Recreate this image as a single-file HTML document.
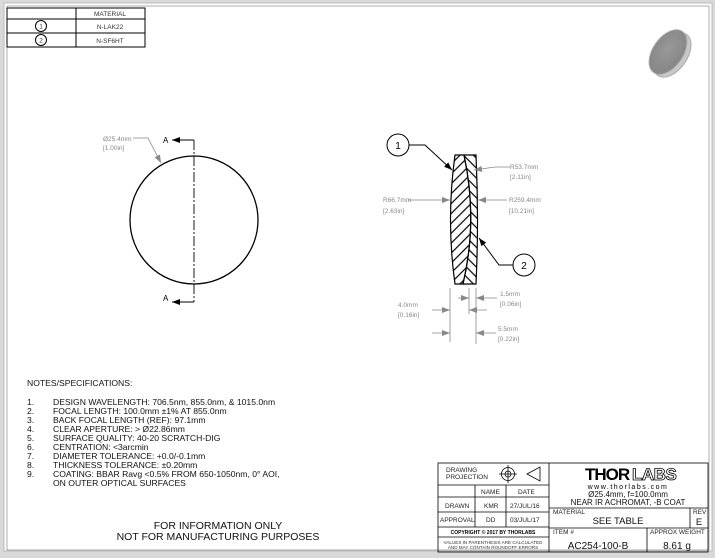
<!DOCTYPE html>
<html><head><meta charset="utf-8"><style>
body{margin:0;width:715px;height:558px;overflow:hidden;background:#d9d9d9;font-family:"Liberation Sans",sans-serif}
svg{display:block}
text{font-family:"Liberation Sans",sans-serif}
</style></head><body>
<svg width="715" height="558" viewBox="0 0 715 558">
<rect x="4" y="3" width="708" height="548" fill="#fff" stroke="#bbb"/>
<rect x="7" y="6" width="702" height="544" fill="#fff" stroke="#999" stroke-width="0.8"/>
<defs>
<marker id="ag" markerWidth="8" markerHeight="6" refX="8" refY="3" orient="auto" markerUnits="userSpaceOnUse"><path d="M0,0L8,3L0,6z" fill="#888"/></marker>
<marker id="ak" markerWidth="8" markerHeight="6" refX="8" refY="3" orient="auto" markerUnits="userSpaceOnUse"><path d="M0,0L8,3L0,6z" fill="#000"/></marker>
<pattern id="h1" width="7" height="7" patternUnits="userSpaceOnUse" patternTransform="rotate(45)"><line x1="1" y1="0" x2="1" y2="7" stroke="#000" stroke-width="1.2"/></pattern>
<pattern id="h2" width="7" height="7" patternUnits="userSpaceOnUse" patternTransform="rotate(-45)"><line x1="1" y1="0" x2="1" y2="7" stroke="#000" stroke-width="1.2"/></pattern>
<radialGradient id="lg" cx="0.45" cy="0.45"><stop offset="0" stop-color="#999"/><stop offset="1" stop-color="#888"/></radialGradient>
</defs>
<!-- material table -->
<g stroke="#000" stroke-width="1" fill="none">
<rect x="7" y="8" width="138" height="39"/>
<line x1="7" y1="19" x2="145" y2="19"/><line x1="7" y1="33" x2="145" y2="33"/>
<line x1="76" y1="8" x2="76" y2="47"/>
<circle cx="41" cy="26" r="5.5"/><circle cx="41" cy="40" r="5.5"/>
</g>
<g font-size="6.5" fill="#333" text-anchor="middle">
<text x="110" y="16">MATERIAL</text><text x="110" y="29">N-LAK22</text><text x="110" y="43">N-SF6HT</text>
<text x="41" y="28.5">1</text><text x="41" y="42.5">2</text></g>
<!-- lens image -->
<g transform="rotate(35 668 52)">
<ellipse cx="673" cy="52" rx="15" ry="25" fill="#c8c8c8" stroke="#aaa"/>
<ellipse cx="668" cy="52" rx="15" ry="25" fill="url(#lg)" stroke="#aaa"/>
</g>
<!-- front view -->
<circle cx="194" cy="220" r="64" fill="none" stroke="#000" stroke-width="1.3"/>
<line x1="194" y1="140" x2="194" y2="302" stroke="#000" stroke-width="0.9" stroke-dasharray="10,2,2,2"/>
<path d="M194,140H172" stroke="#000" stroke-width="1" fill="none" marker-end="url(#ak)"/>
<path d="M194,302H172" stroke="#000" stroke-width="1" fill="none" marker-end="url(#ak)"/>
<text x="163" y="143" font-size="8">A</text><text x="163" y="301" font-size="8">A</text>
<text x="103" y="141" font-size="6.5" fill="#888">Ø25.4mm</text>
<text x="103" y="150" font-size="6.5" fill="#888">[1.00in]</text>
<path d="M133,138H148L161,163" stroke="#888" fill="none" stroke-width="0.8" marker-end="url(#ag)"/>
<!-- section -->
<path d="M455,155 Q446,220 455,284 L463,284 Q478,220 464,155Z" fill="url(#h1)" stroke="#000" stroke-width="1.2"/>
<path d="M464,155 Q478,220 463,284 L476,284 Q479,220 476,155Z" fill="url(#h2)" stroke="#000" stroke-width="1.2"/>
<circle cx="398" cy="145" r="11" fill="#fff" stroke="#000"/><text x="398" y="149" font-size="10" text-anchor="middle">1</text>
<path d="M409,145H425L452,170" stroke="#000" fill="none" marker-end="url(#ak)"/>
<circle cx="524" cy="265" r="11" fill="#fff" stroke="#000"/><text x="524" y="269" font-size="10" text-anchor="middle">2</text>
<path d="M513,265H499L479,238" stroke="#000" fill="none" marker-end="url(#ak)"/>
<g font-size="6.5" fill="#888">
<text x="510" y="169">R53.7mm</text><text x="510" y="179">[2.11in]</text>
<text x="383" y="202">R66.7mm</text><text x="383" y="213">[2.63in]</text>
<text x="509" y="202">R259.4mm</text><text x="509" y="213">[10.21in]</text>
<text x="398" y="307">4.0mm</text><text x="398" y="317">[0.16in]</text>
<text x="500" y="296">1.5mm</text><text x="500" y="306">[0.06in]</text>
<text x="498" y="331">5.5mm</text><text x="498" y="341">[0.22in]</text>
</g>
<g stroke="#888" stroke-width="0.8" fill="none">
<path d="M510,167H495L474,170" marker-end="url(#ag)"/>
<path d="M408,200H450" marker-end="url(#ag)"/>
<path d="M507,200H478" marker-end="url(#ag)"/>
<line x1="450" y1="288" x2="450" y2="342"/><line x1="469" y1="288" x2="469" y2="314"/><line x1="476" y1="288" x2="476" y2="344"/>
<path d="M432,310H450" marker-end="url(#ag)"/><path d="M487,310H469" marker-end="url(#ag)"/>
<path d="M458,298H469" marker-end="url(#ag)"/><path d="M497,298H476" marker-end="url(#ag)"/>
<path d="M432,333H450" marker-end="url(#ag)"/><path d="M496,333H476" marker-end="url(#ag)"/>
</g>
<!-- notes -->
<g font-size="8.6" fill="#111">
<text x="27" y="386">NOTES/SPECIFICATIONS:</text>
<text x="27" y="405">1.</text><text x="53" y="405">DESIGN WAVELENGTH: 706.5nm, 855.0nm, &amp; 1015.0nm</text>
<text x="27" y="414">2.</text><text x="53" y="414">FOCAL LENGTH: 100.0mm ±1% AT 855.0nm</text>
<text x="27" y="423">3.</text><text x="53" y="423">BACK FOCAL LENGTH (REF): 97.1mm</text>
<text x="27" y="432">4.</text><text x="53" y="432">CLEAR APERTURE: &gt; Ø22.86mm</text>
<text x="27" y="441">5.</text><text x="53" y="441">SURFACE QUALITY: 40-20 SCRATCH-DIG</text>
<text x="27" y="450">6.</text><text x="53" y="450">CENTRATION: &lt;3arcmin</text>
<text x="27" y="459">7.</text><text x="53" y="459">DIAMETER TOLERANCE: +0.0/-0.1mm</text>
<text x="27" y="468">8.</text><text x="53" y="468">THICKNESS TOLERANCE: ±0.20mm</text>
<text x="27" y="477">9.</text><text x="53" y="477">COATING: BBAR Ravg &lt;0.5% FROM 650-1050nm, 0° AOI,</text>
<text x="53" y="486">ON OUTER OPTICAL SURFACES</text>
</g>
<g font-size="10.5" fill="#111" text-anchor="middle">
<text x="218" y="529">FOR INFORMATION ONLY</text>
<text x="218" y="540">NOT FOR MANUFACTURING PURPOSES</text>
</g>
<!-- title block -->
<g stroke="#000" stroke-width="0.8" fill="none">
<rect x="438" y="463" width="270" height="89"/>
<line x1="549" y1="463" x2="549" y2="552"/>
<line x1="438" y1="485" x2="549" y2="485"/><line x1="438" y1="497" x2="549" y2="497"/>
<line x1="438" y1="512" x2="549" y2="512"/><line x1="438" y1="527" x2="549" y2="527"/>
<line x1="438" y1="537" x2="549" y2="537"/>
<line x1="475" y1="485" x2="475" y2="527"/><line x1="506" y1="485" x2="506" y2="527"/>
<line x1="549" y1="508" x2="708" y2="508"/><line x1="549" y1="528" x2="708" y2="528"/>
<line x1="690" y1="508" x2="690" y2="528"/><line x1="647" y1="528" x2="647" y2="552"/>
<circle cx="508" cy="474" r="6.5"/><circle cx="508" cy="474" r="3"/>
<line x1="499" y1="474" x2="517" y2="474"/><line x1="508" y1="465" x2="508" y2="483"/>
<path d="M527,474L540,467V481Z"/>
</g>
<g font-size="6.5" fill="#222">
<text x="446" y="472">DRAWING</text><text x="446" y="479">PROJECTION</text>
<text x="481" y="494">NAME</text><text x="518" y="494">DATE</text>
<text x="445" y="508">DRAWN</text><text x="484" y="508">KMR</text><text x="510" y="508">27/JUL/16</text>
<text x="440" y="522">APPROVAL</text><text x="486" y="522">DD</text><text x="510" y="522">03/JUL/17</text>
<text x="553" y="514">MATERIAL</text><text x="693" y="514">REV</text>
<text x="553" y="534">ITEM #</text><text x="650" y="534">APPROX WEIGHT</text>
</g>
<text x="493" y="534" font-size="5" font-weight="bold" text-anchor="middle">COPYRIGHT © 2017 BY THORLABS</text>
<g font-size="4.6" fill="#333" text-anchor="middle"><text x="493" y="544">VALUES IN PARENTHESIS ARE CALCULATED</text><text x="493" y="549">AND MAY CONTAIN ROUNDOFF ERRORS</text></g>
<text x="585" y="480" font-size="17" font-weight="bold" letter-spacing="-1">THOR</text>
<text x="632" y="480" font-size="17" font-weight="bold" fill="#fff" stroke="#000" stroke-width="0.8" letter-spacing="-0.5">LABS</text>
<text x="628" y="489" font-size="7" text-anchor="middle" letter-spacing="1.5">www.thorlabs.com</text>
<g font-size="8" text-anchor="middle" fill="#111">
<text x="628" y="497">Ø25.4mm, f=100.0mm</text>
<text x="628" y="505">NEAR IR ACHROMAT, -B COAT</text>
<text x="618" y="524" font-size="9.5">SEE TABLE</text>
<text x="699" y="525" font-size="9.5">E</text>
<text x="598" y="549" font-size="10">AC254-100-B</text>
<text x="677" y="549" font-size="10">8.61 g</text>
</g>
</svg>
</body></html>
